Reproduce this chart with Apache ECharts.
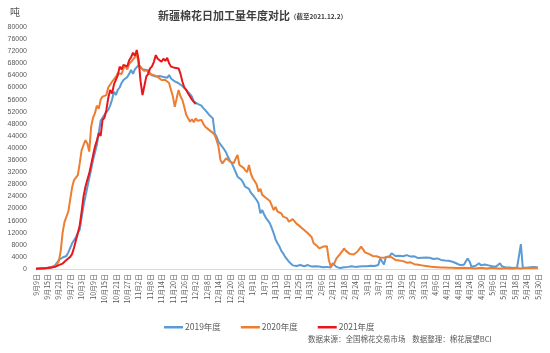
<!DOCTYPE html>
<html><head><meta charset="utf-8">
<script src="https://cdn.jsdelivr.net/npm/echarts@6/dist/echarts.min.js"></script>
<style>html,body{margin:0;padding:0;background:#fff}#c{width:550px;height:353px}</style>
</head><body><div id="c"></div>
<script>
// Categories: daily dates from 9月9日 to 5月30日 (season with 29-day February)
const monthNums = [9,10,11,12,1,2,3,4,5];
const monthDays = [30,31,30,31,31,29,31,30,31];
const startDay = 9, endDay = 30;
const categories = [];
monthNums.forEach((m, i) => {
  const from = i === 0 ? startDay : 1;
  const to = i === monthNums.length - 1 ? endDay : monthDays[i];
  for (let d = from; d <= to; d++) categories.push(m + '月' + d + '日');
});

const seriesNames = ['2019年度', '2020年度', '2021年度'];

const data2019 = [
100,150,200,250,300,350,400,500,600,800,
1200,2000,3000,3500,3800,4000,4300,5500,7000,8500,
9500,10500,12000,13000,17000,21000,24000,27000,30000,33000,
36000,38500,41000,45000,49000,50000,51000,51500,52600,54000,
56000,58600,57500,59200,60000,61500,62500,62000,63500,64500,
65800,64500,66000,66500,67500,66800,66000,65500,65800,65000,
64800,64000,64500,63600,63000,63800,64200,63500,64000,63200,
64100,63000,62500,62000,61800,61400,61000,60500,60000,59200,
58600,57800,57000,55300,55000,54600,54200,54000,53200,52500,
52000,51000,50500,49800,44800,43700,42000,41500,40400,39500,
38500,37000,35800,34900,33500,32000,30500,31000,29500,28500,
27200,27800,26500,25200,24500,23900,22800,21700,18400,19500,
18000,16800,16000,15100,13500,11800,9800,8500,7500,6000,
5200,4000,3500,2400,1800,1200,800,1000,1300,1300,
1100,900,1200,1300,1000,800,1100,900,700,800,
700,600,800,700,500,500,1900,1600,700,400,
300,500,600,800,700,800,900,800,700,900,
800,1000,900,800,900,1000,1100,900,1000,1200,
1300,3500,3200,1500,4000,4500,4200,5200,4800,4300,
4000,4400,4600,4200,4800,4600,4300,4100,3900,4200,
3800,3600,3500,3700,4000,3800,3600,3700,3500,3300,
3600,3500,3200,3000,3000,2800,2600,2700,2500,2400,
2000,1900,1700,1300,1500,1400,1600,3500,2500,800,
700,1000,1400,1900,1200,900,1500,1900,1200,800,
900,700,800,1200,1900,900,600,500,400,500,
400,300,400,500,500,8200,400,300,400,500,
600,500,700,600,500
];

const data2020 = [
100,150,150,200,200,300,300,400,500,600,
700,800,2500,6000,12000,15600,15000,19000,23000,27000,
29400,30200,31000,35000,39300,41000,42600,41500,38800,47000,
50000,51500,54000,53000,56000,57000,56500,57500,60000,59500,
61900,62500,63500,64700,65000,64500,66300,67000,66000,67800,
68500,68000,70000,71300,67400,66500,66000,65500,65200,65800,
64500,65000,64100,64500,63500,63000,62500,63000,62500,63000,
61500,59200,57000,53600,56500,59200,57000,55900,53500,51000,
49800,48700,49500,48500,49800,49000,48500,49300,48000,47000,
46500,46000,45400,45000,44300,42500,40400,36000,34900,35500,
36600,36000,35500,36000,35000,36500,37700,34400,34000,33500,
32700,32000,34400,31500,30000,29400,28000,25600,26500,24500,
23900,23500,23000,22500,22800,19500,20500,19000,18800,18400,
17300,17800,16800,15600,16000,16500,16200,15000,14500,14000,
13500,12900,12500,11800,11800,10500,8500,8000,7500,6800,
7000,7400,7900,7500,3000,800,200,2000,3500,4000,
5000,5800,6800,6000,5500,5000,5500,4800,4600,5700,
6000,7400,6500,5500,5200,5000,4800,4300,4000,4200,
4000,3800,4100,3700,3500,4000,4600,3900,3500,3000,
3200,2800,2400,2600,2300,2100,1900,2200,1800,1600,
1500,1400,1300,1200,1100,1000,900,800,900,700,
700,600,600,500,600,500,500,400,500,400,
400,300,400,300,300,400,300,300,200,300,
300,200,300,300,200,300,300,200,200,300,
200,300,200,200,300,200,200,300,200,200,
300,200,200,300,200,200,300,300,400,300,
300,400,300,300,400
];

const data2021 = [
100,100,150,200,200,250,300,400,500,600,
700,900,1300,1500,1800,2300,3000,3500,4000,5000,
7000,9500,11800,14500,19000,24000,27200,29500,31600,34500,
37500,40400,42500,44900,44000,49300,50000,52600,56500,59200,
58000,61000,62500,64000,66900,66000,67500,68000,67000,69000,
70000,71500,70500,72400,69000,62000,57500,60500,63600,64500,
66300,67000,68500,70700,69500,70000,68500,69500,68800,69800,
68000,66900,67500,66500,66000,66300,64500,61900,60000,59200,
58000,57000,56000,55300,54500
];

const yMax = 80000, yStep = 4000;
const colors = ['#5B9BD5', '#ED7D31', '#E8171B'];

const chart = echarts.init(document.getElementById('c'), null, {renderer: 'canvas'});
chart.setOption({
  animation: false,
  backgroundColor: '#ffffff',
  color: colors,
  title: {
    text: '{a|新疆棉花日加工量年度对比}{b|（截至2021.12.2）}',
    left: 153, top: 5,
    textStyle: {
      rich: {
        a: {fontSize: 11, fontWeight: 'bold', color: '#404040', fontFamily: 'Noto Sans CJK SC'},
        b: {fontSize: 6.5, fontWeight: 'bold', color: '#404040', fontFamily: 'Noto Sans CJK SC', padding: [2,0,0,0]}
      }
    }
  },
  graphic: [
    {type: 'text', left: 10, top: 7, style: {text: '吨', fontSize: 10, fill: '#595959', fontFamily: 'Noto Sans CJK SC'}},
    {type: 'text', left: 308, top: 335, style: {text: '数据来源：全国棉花交易市场    数据整理：棉花展望BCI', fontSize: 7.5, fill: '#595959', fontFamily: 'Noto Sans CJK SC'}}
  ],
  legend: {
    data: seriesNames,
    left: 159, top: 318,
    icon: 'rect', itemWidth: 19, itemHeight: 2.5, itemGap: 20,
    textStyle: {fontSize: 8.5, color: '#595959', fontFamily: 'Noto Sans CJK SC', padding: [0,0,0,-3]}
  },
  grid: {left: 36, right: 12, top: 27, bottom: 84, containLabel: false},
  xAxis: {
    type: 'category', data: categories, boundaryGap: false,
    axisLine: {lineStyle: {color: '#d9d9d9', width: 1}},
    axisTick: {show: false},
    axisLabel: {interval: 5, rotate: 90, fontSize: 7, color: '#595959', margin: 5, fontFamily: 'Noto Sans CJK SC'},
    splitLine: {show: false}
  },
  yAxis: {
    type: 'value', min: 0, max: yMax, interval: yStep,
    axisLine: {show: false}, axisTick: {show: false},
    splitLine: {show: false},
    axisLabel: {fontSize: 7, color: '#595959', margin: 9, fontFamily: 'Liberation Sans', formatter: v => String(v)}
  },
  series: [
    {name: seriesNames[0], type: 'line', data: data2019, showSymbol: false, lineStyle: {width: 2, color: colors[0]}, z: 2},
    {name: seriesNames[1], type: 'line', data: data2020, showSymbol: false, lineStyle: {width: 2, color: colors[1]}, z: 3},
    {name: seriesNames[2], type: 'line', data: data2021, showSymbol: false, lineStyle: {width: 2, color: colors[2]}, z: 4}
  ]
});
</script></body></html>
